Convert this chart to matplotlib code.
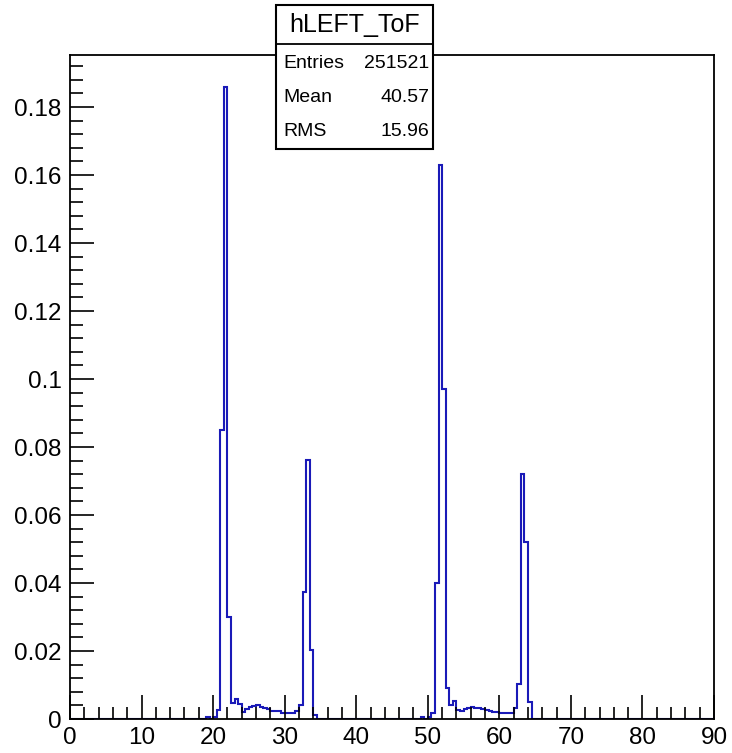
import numpy as np
import matplotlib
matplotlib.use("Agg")
import matplotlib.pyplot as plt
from matplotlib.patches import Rectangle
from matplotlib.lines import Line2D
from matplotlib.ticker import MultipleLocator

# ---- data ----
x_min, x_max, bin_width = 0.0, 90.0, 0.5

group1_start = 19.0
group1_values = [0.0005, 0.0, 0.0007, 0.0027, 0.085, 0.186, 0.030, 0.0046,
                 0.0058, 0.0043, 0.0022, 0.0029, 0.0035, 0.0039, 0.0040,
                 0.0035, 0.0031, 0.0030, 0.0024, 0.0023, 0.0023, 0.0019,
                 0.0018, 0.0018, 0.0018, 0.0023, 0.0040, 0.0375, 0.0761,
                 0.0203, 0.0013]

group2_start = 49.0
group2_values = [0.0006, 0.0, 0.0007, 0.0018, 0.040, 0.163, 0.097, 0.0091,
                 0.0042, 0.0052, 0.0027, 0.0024, 0.0030, 0.0033, 0.0034,
                 0.0033, 0.0031, 0.0028, 0.0026, 0.0024, 0.0022, 0.0021,
                 0.0018, 0.0018, 0.0018, 0.0018, 0.0033, 0.0103, 0.072,
                 0.052, 0.005]

hist_name = "hLEFT_ToF"
stat_labels = ["Entries", "Mean", "RMS"]
stat_values = ["251521", "40.57", "15.96"]

x_major = [0, 10, 20, 30, 40, 50, 60, 70, 80, 90]
y_major = [0, 0.02, 0.04, 0.06, 0.08, 0.1, 0.12, 0.14, 0.16, 0.18]
y_major_labels = ["0", "0.02", "0.04", "0.06", "0.08", "0.1", "0.12", "0.14", "0.16", "0.18"]

# ---- build histogram ----
edges = np.arange(x_min, x_max + bin_width / 2, bin_width)
counts = np.zeros(len(edges) - 1)
for start, vals in ((group1_start, group1_values), (group2_start, group2_values)):
    i0 = int(round((start - x_min) / bin_width))
    counts[i0:i0 + len(vals)] = vals

FONT = ['Liberation Sans', 'DejaVu Sans']
plt.rcParams['font.family'] = FONT

W, H = 732, 753
fig = plt.figure(figsize=(W / 100, H / 100), dpi=100)
ax = fig.add_axes([70 / W, 1 - 719 / H, (714 - 70) / W, (719 - 55) / H])

ax.stairs(counts, edges, color='#1a1ab8', lw=1.5, baseline=0)
ax.set_xlim(x_min, x_max)
ymax = 1.05 * counts.max()
ax.set_ylim(0, ymax)

ax.set_xticks(x_major)
ax.set_xticklabels([str(v) for v in x_major])
ax.xaxis.set_minor_locator(MultipleLocator(2))
ax.set_yticks(y_major)
ax.set_yticklabels(y_major_labels)
ax.yaxis.set_minor_locator(MultipleLocator(0.004))

ax.tick_params(axis='both', which='both', direction='in', color='black', width=1.2,
               top=False, right=False, labelsize=17.5)
ax.tick_params(axis='x', which='major', length=17, pad=6)
ax.tick_params(axis='x', which='minor', length=9)
ax.tick_params(axis='y', which='major', length=17, pad=6)
ax.tick_params(axis='y', which='minor', length=9)
for s in ax.spines.values():
    s.set_linewidth(1.3)

# ---- stats box ----
bx0, bx1 = 276 / W, 433 / W
by0, by1 = 1 - 149 / H, 1 - 5 / H
sep = 1 - 44 / H
fig.patches.append(Rectangle((bx0, by0), bx1 - bx0, by1 - by0, transform=fig.transFigure,
                             facecolor='white', edgecolor='black', lw=1.5, zorder=10))
fig.lines.append(Line2D([bx0, bx1], [sep, sep], transform=fig.transFigure,
                        color='black', lw=1.3, zorder=11))
fig.text((bx0 + bx1) / 2, 1 - 25 / H, hist_name, ha='center', va='center',
         fontsize=18, zorder=12)
row_y = [63, 97, 131]
for lab, val, ry in zip(stat_labels, stat_values, row_y):
    fig.text(283 / W, 1 - ry / H, lab, ha='left', va='center', fontsize=14, zorder=12)
    fig.text(429 / W, 1 - ry / H, val, ha='right', va='center', fontsize=14, zorder=12)

fig.savefig("out.png", dpi=100)
